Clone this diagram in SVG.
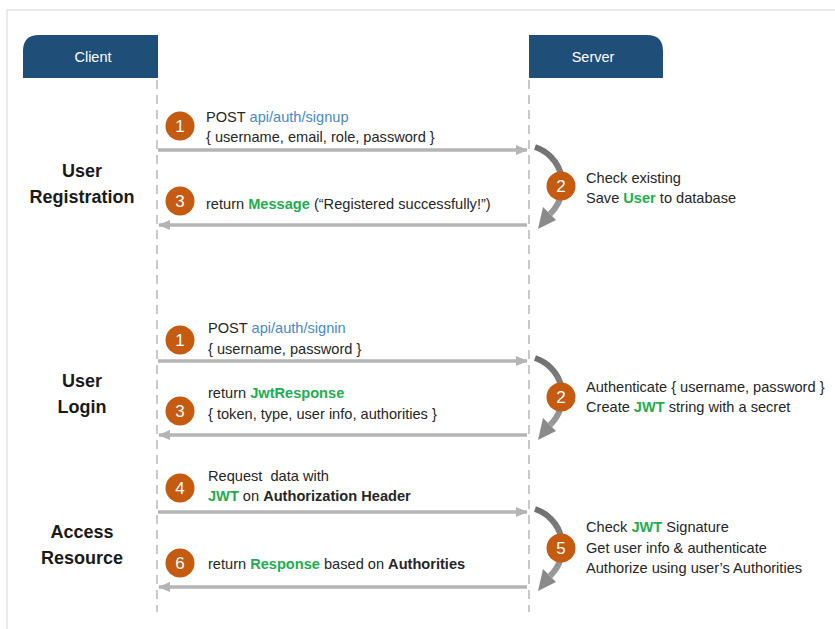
<svg xmlns="http://www.w3.org/2000/svg" width="835" height="629" viewBox="0 0 835 629">
  <defs>
    <marker id="headR" markerWidth="12" markerHeight="10" refX="11" refY="5" orient="auto" markerUnits="userSpaceOnUse">
      <path d="M0,0 L12,5 L0,10 z" fill="#b4b4b4"/>
    </marker>
    <linearGradient id="loopGrad" x1="0" y1="0" x2="0" y2="1">
      <stop offset="0" stop-color="#6f6f6f"/>
      <stop offset="1" stop-color="#9a9a9a"/>
    </linearGradient>
  </defs>
  <style>
    .frame { stroke: #e3e3e3; stroke-width: 1.5; fill: none; }
    .lifeline { stroke: #b8b8b8; stroke-width: 1.5; stroke-dasharray: 9 6; fill: none; }
    .msg { stroke: #b4b4b4; stroke-width: 3.5; fill: none; marker-end: url(#headR); }
    .loop { stroke: url(#loopGrad); stroke-width: 6; fill: none; }
    .loophead { fill: #8a8a8a; }
    .head { fill: #1f4e79; }
    .headtext { font-family: "Liberation Sans", Arial, sans-serif; font-size: 14.5px; fill: #ffffff; text-anchor: middle; }
    .badge circle { fill: #c55a11; }
    .badge text { font-family: "Liberation Sans", Arial, sans-serif; font-size: 17px; fill: #ffffff; text-anchor: middle; }
    .t { font-family: "Liberation Sans", Arial, sans-serif; font-size: 14.6px; fill: #262626; }
    .sec { font-family: "Liberation Sans", Arial, sans-serif; font-size: 18px; font-weight: bold; fill: #1a1a1a; text-anchor: middle; }
    .blue { fill: #4a89c9; }
    .green { fill: #1fae4f; font-weight: bold; }
    .b { font-weight: bold; }
  </style>

  <rect width="835" height="629" fill="#ffffff"/>
  <!-- outer frame (top and left edges) -->
  <path class="frame" d="M7,629 L7,10 L835,10"/>

  <!-- participants -->
  <g id="client">
    <path class="head" d="M23,78 L23,51 Q23,35 39,35 L158,35 L158,78 z"/>
    <text class="headtext" x="93" y="62">Client</text>
  </g>
  <g id="server">
    <path class="head" d="M529,78 L529,35 L647,35 Q663,35 663,51 L663,78 z"/>
    <text class="headtext" x="593" y="62">Server</text>
  </g>

  <!-- section labels -->
  <g id="sec-registration">
    <text class="sec" x="82" y="177">User</text>
    <text class="sec" x="82" y="203">Registration</text>
  </g>
  <g id="sec-login">
    <text class="sec" x="82" y="387">User</text>
    <text class="sec" x="82" y="413">Login</text>
  </g>
  <g id="sec-access">
    <text class="sec" x="82" y="538">Access</text>
    <text class="sec" x="82" y="564">Resource</text>
  </g>

  <!-- connectors -->
  <g id="connectors">
    <line class="lifeline" x1="157" y1="80" x2="157" y2="612"/>
    <line class="lifeline" x1="529" y1="80" x2="529" y2="612"/>

    <!-- registration -->
    <line class="msg" x1="158" y1="150" x2="527" y2="150"/>
    <line class="msg" x1="527" y1="225" x2="159" y2="225"/>
    <path class="loop" d="M535,147 A40,40 0 0 1 550,214"/>
    <path class="loophead" d="M538,229 L543,207 L556,220 z"/>

    <!-- login -->
    <line class="msg" x1="158" y1="361" x2="527" y2="361"/>
    <line class="msg" x1="527" y1="435" x2="159" y2="435"/>
    <path class="loop" d="M535,358 A40,40 0 0 1 550,425"/>
    <path class="loophead" d="M538,440 L543,418 L556,431 z"/>

    <!-- access -->
    <line class="msg" x1="158" y1="512" x2="527" y2="512"/>
    <line class="msg" x1="527" y1="587" x2="159" y2="587"/>
    <path class="loop" d="M535,509 A40,40 0 0 1 550,576"/>
    <path class="loophead" d="M538,591 L543,569 L556,582 z"/>
  </g>

  <!-- registration steps -->
  <g id="reg-1" class="badge">
    <circle cx="180" cy="126" r="14.5"/>
    <text x="180" y="132">1</text>
  </g>
  <g id="reg-1-label">
    <text class="t" x="206" y="122">POST <tspan class="blue">api/auth/signup</tspan></text>
    <text class="t" x="206" y="142">{ username, email, role, password }</text>
  </g>
  <g id="reg-2" class="badge">
    <circle cx="561" cy="186" r="14.5"/>
    <text x="561" y="192">2</text>
  </g>
  <g id="reg-2-label">
    <text class="t" x="586" y="183">Check existing</text>
    <text class="t" x="586" y="203">Save <tspan class="green">User</tspan> to database</text>
  </g>
  <g id="reg-3" class="badge">
    <circle cx="180" cy="201" r="14.5"/>
    <text x="180" y="207">3</text>
  </g>
  <g id="reg-3-label">
    <text class="t" x="206" y="209">return <tspan class="green">Message</tspan> (“Registered successfully!”)</text>
  </g>

  <!-- login steps -->
  <g id="login-1" class="badge">
    <circle cx="180" cy="340" r="14.5"/>
    <text x="180" y="346">1</text>
  </g>
  <g id="login-1-label">
    <text class="t" x="208" y="333">POST <tspan class="blue">api/auth/signin</tspan></text>
    <text class="t" x="208" y="354">{ username, password }</text>
  </g>
  <g id="login-2" class="badge">
    <circle cx="561" cy="397" r="14.5"/>
    <text x="561" y="403">2</text>
  </g>
  <g id="login-2-label">
    <text class="t" x="586" y="392">Authenticate { username, password }</text>
    <text class="t" x="586" y="412">Create <tspan class="green">JWT</tspan> string with a secret</text>
  </g>
  <g id="login-3" class="badge">
    <circle cx="180" cy="411" r="14.5"/>
    <text x="180" y="417">3</text>
  </g>
  <g id="login-3-label">
    <text class="t" x="208" y="398">return <tspan class="green">JwtResponse</tspan></text>
    <text class="t" x="208" y="419">{ token, type, user info, authorities }</text>
  </g>

  <!-- access steps -->
  <g id="access-4" class="badge">
    <circle cx="180" cy="488" r="14.5"/>
    <text x="180" y="494">4</text>
  </g>
  <g id="access-4-label">
    <text class="t" x="208" y="481" xml:space="preserve">Request  data with</text>
    <text class="t" x="208" y="501"><tspan class="green">JWT</tspan> on <tspan class="b">Authorization Header</tspan></text>
  </g>
  <g id="access-5" class="badge">
    <circle cx="561" cy="548" r="14.5"/>
    <text x="561" y="554">5</text>
  </g>
  <g id="access-5-label">
    <text class="t" x="586" y="532">Check <tspan class="green">JWT</tspan> Signature</text>
    <text class="t" x="586" y="553">Get user info &amp; authenticate</text>
    <text class="t" x="586" y="573">Authorize using user’s Authorities</text>
  </g>
  <g id="access-6" class="badge">
    <circle cx="180" cy="563" r="14.5"/>
    <text x="180" y="569">6</text>
  </g>
  <g id="access-6-label">
    <text class="t" x="208" y="569">return <tspan class="green">Response</tspan> based on <tspan class="b">Authorities</tspan></text>
  </g>
</svg>
